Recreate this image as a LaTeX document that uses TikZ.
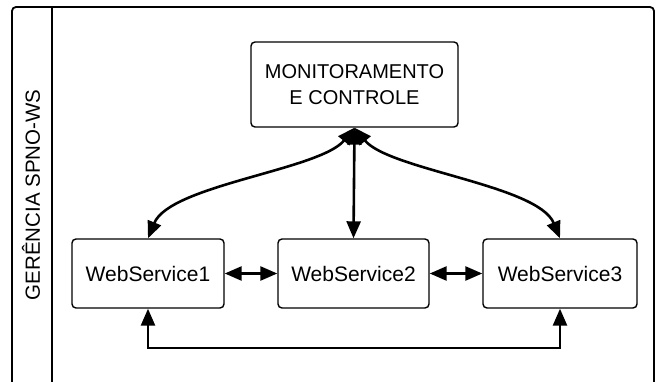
\documentclass[tikz,border=0pt]{standalone}
\usepackage{fontspec}
\setmainfont{Liberation Sans}
\usetikzlibrary{arrows.meta}
\begin{document}
\begin{tikzpicture}[x=1pt,y=-1pt,
  box/.style={draw,line width=1.4pt,rounded corners=4pt,align=center,
    font=\fontsize{20}{26}\selectfont,inner sep=0pt},
  wsbox/.style={box,font=\fontsize{21}{26}\selectfont},
  conn/.style={line width=2.6pt,{Triangle[length=17pt,width=14pt]}-{Triangle[length=17pt,width=14pt]}},
  frame/.style={line width=1.8pt}]
\useasboundingbox (0,0) rectangle (659,382);
\clip (0,0) rectangle (659,382);
\draw[frame,rounded corners=4pt] (12,390) -- (12,7) -- (654,7) -- (654,390);
\draw[frame] (52,7) -- (52,390);
\node[rotate=90,font=\fontsize{20.5}{24}\selectfont] (lbl) at (31,195) {GERÊNCIA SPNO-WS};
\node[box,minimum width=207pt,minimum height=85pt] (mon) at (354.5,84.5) {MONITORAMENTO\\E CONTROLE};
\node[wsbox,minimum width=152pt,minimum height=69pt] (ws1) at (148,273.5) {WebService1};
\node[wsbox,minimum width=151pt,minimum height=69pt] (ws2) at (353.5,273.5) {WebService2};
\node[wsbox,minimum width=154pt,minimum height=69pt] (ws3) at (560,273.5) {WebService3};
\draw[conn] (mon.south) .. controls (320,170) and (170,185) .. (ws1.north);
\draw[conn] (mon.south) .. controls (389,170) and (538,185) .. (ws3.north);
\draw[conn] (mon.south) -- (ws2.north);
\draw[conn] (ws1.east) -- (ws2.west);
\draw[conn] (ws2.east) -- (ws3.west);
\coordinate (b1) at (148,348);
\coordinate (b3) at (560,348);
\draw[conn] (ws1.south) -- (b1) -- (b3) -- (ws3.south);
\end{tikzpicture}
\end{document}
